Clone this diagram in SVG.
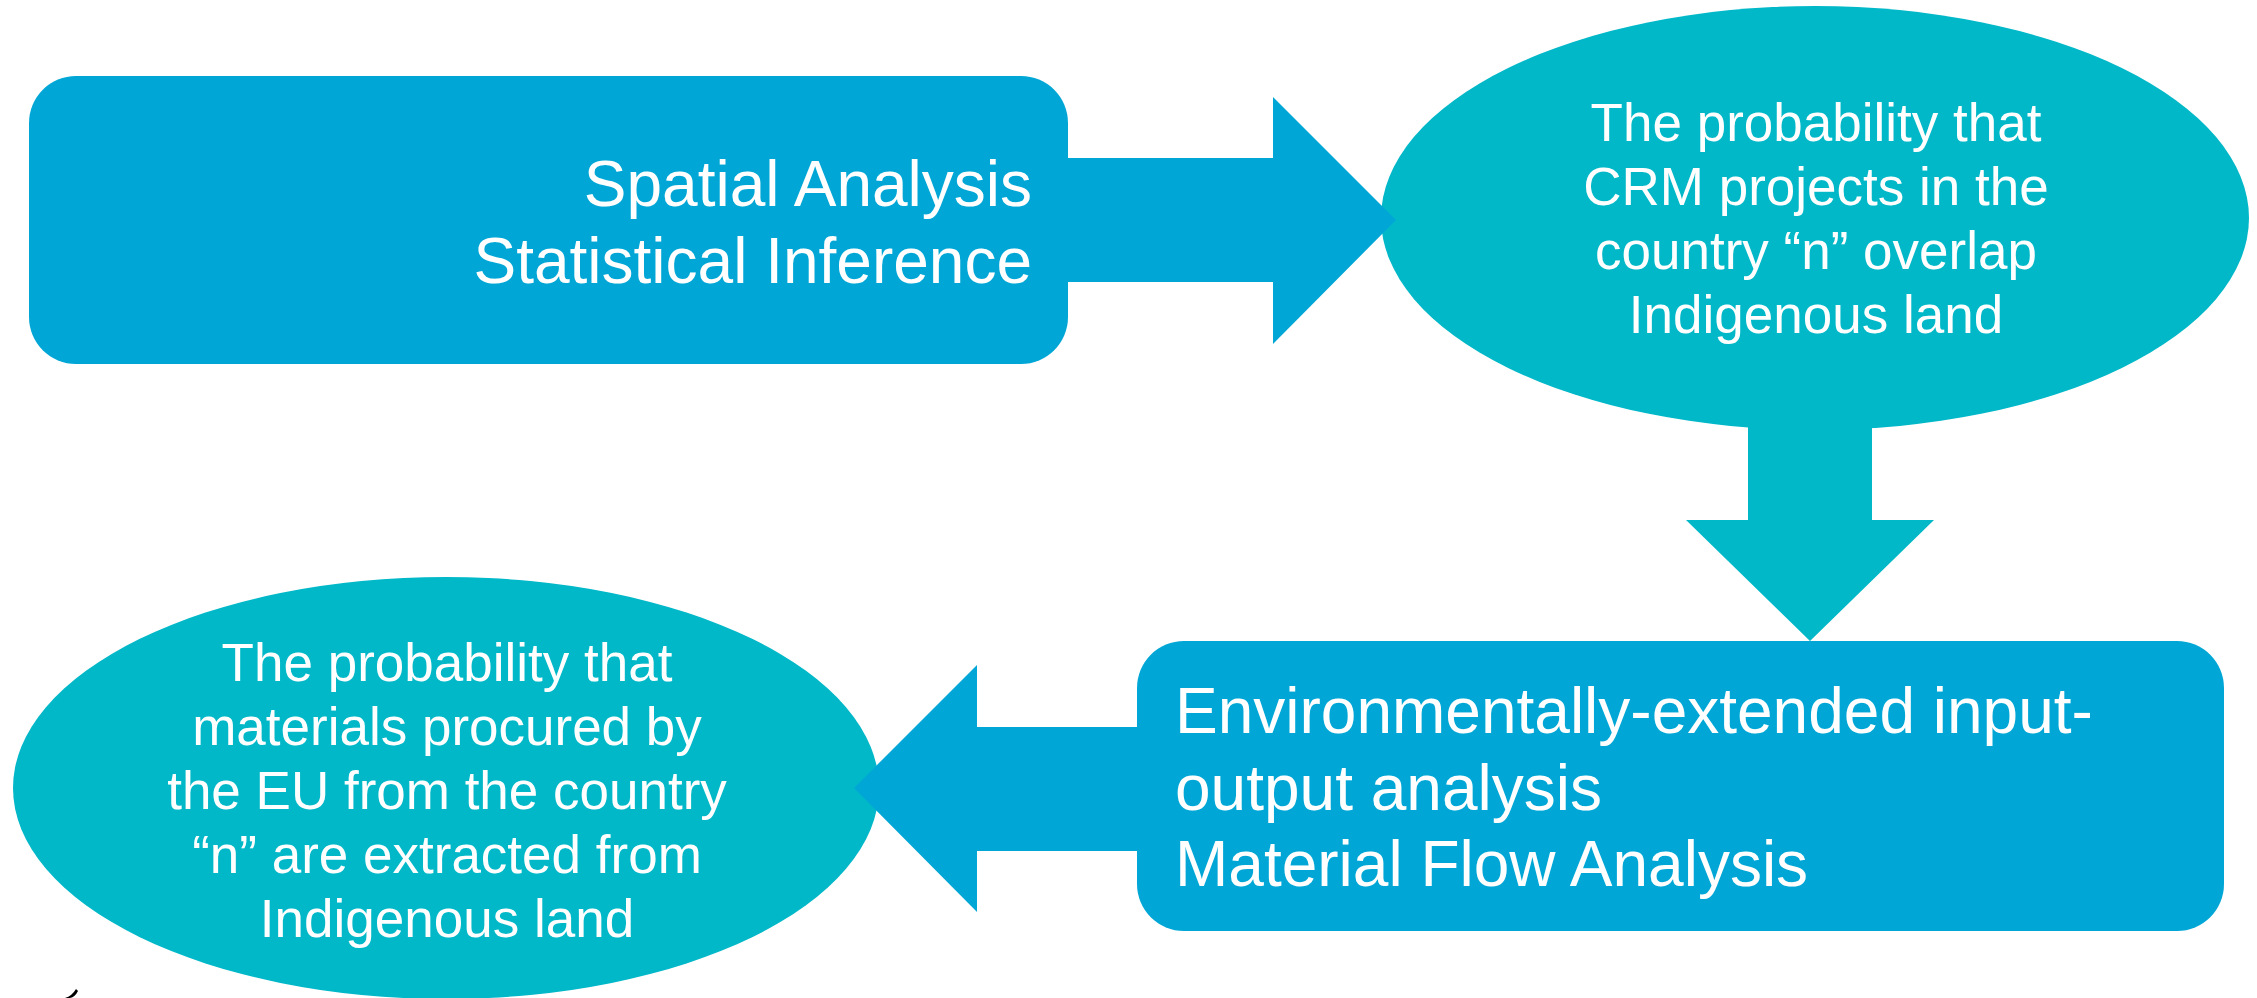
<svg xmlns="http://www.w3.org/2000/svg" width="2257" height="998" viewBox="0 0 2257 998">
<style>
.box{fill:#00A7D6}
.oval{fill:#00B8C8}
.arrowB{fill:#00A7D6}
.arrowT{fill:#00B8C8}
text{font-family:"Liberation Sans",Arial,sans-serif;fill:#FFFFFF}
.big{font-size:64px}
.mid{font-size:53px;text-anchor:middle}
</style>
<rect width="2257" height="998" fill="#FFFFFF"/>
<g id="node-spatial">
<rect class="box" x="29" y="76" width="1039" height="288" rx="47" ry="47"/>
<text class="big" text-anchor="end"><tspan x="1032" y="206">Spatial Analysis</tspan><tspan x="1032" y="283">Statistical Inference</tspan></text>
</g>
<g id="node-prob-crm">
<ellipse class="oval" cx="1815" cy="218" rx="434" ry="212"/>
<text class="mid"><tspan x="1816" y="141">The probability that</tspan><tspan x="1816" y="205">CRM projects in the</tspan><tspan x="1816" y="269">country “n” overlap</tspan><tspan x="1816" y="333">Indigenous land</tspan></text>
</g>
<g id="node-eeio">
<rect class="box" x="1137" y="641" width="1087" height="290" rx="47" ry="47"/>
<text class="big"><tspan x="1175" y="733">Environmentally-extended input-</tspan><tspan x="1175" y="810">output analysis</tspan><tspan x="1175" y="886">Material Flow Analysis</tspan></text>
</g>
<g id="node-prob-eu">
<ellipse class="oval" cx="446" cy="788" rx="433" ry="211"/>
<text class="mid"><tspan x="447" y="681">The probability that</tspan><tspan x="447" y="745">materials procured by</tspan><tspan x="447" y="809">the EU from the country</tspan><tspan x="447" y="873">“n” are extracted from</tspan><tspan x="447" y="937">Indigenous land</tspan></text>
</g>
<g id="connectors">
<polygon class="arrowB" points="1068,158 1273,158 1273,97 1396,220 1273,344 1273,282 1068,282"/>
<polygon class="arrowT" points="1748,420 1872,420 1872,520 1934,520 1810,641 1686,520 1748,520"/>
<polygon class="arrowB" points="1137,727 977,727 977,665 854,788 977,912 977,851 1137,851"/>
</g>
<path d="M65,998 Q72,996 76,989 L78,991 Q75,997 70,998 Z" fill="#000000"/>
</svg>
